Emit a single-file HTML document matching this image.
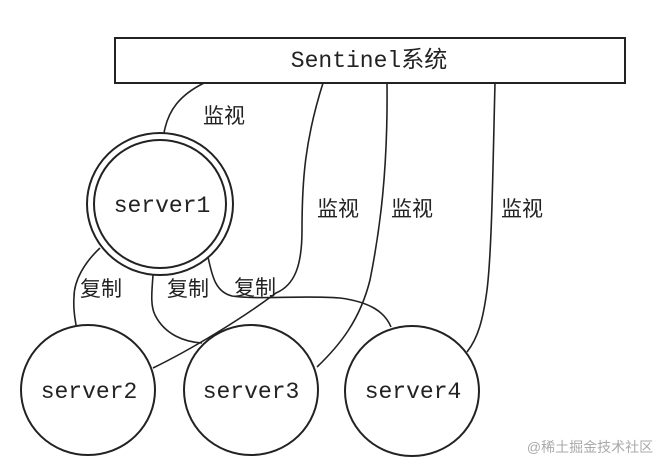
<!DOCTYPE html>
<html><head><meta charset="utf-8"><style>
html,body{margin:0;padding:0;background:#fff;}
svg{display:block}
.m{font-family:"Liberation Mono","Noto Sans CJK SC",monospace;font-size:23px;fill:#222}
.c{font-family:"Liberation Sans","Noto Sans CJK SC",sans-serif;font-size:21px;fill:#222}
</style></head><body>
<svg width="663" height="469" viewBox="0 0 663 469" xmlns="http://www.w3.org/2000/svg">
<g fill="none" stroke="#222" stroke-width="1.6">
<rect x="115" y="38" width="510" height="45" stroke-width="2"/>
<path d="M204 83 C180 95 168 110 164 133"/>
<path d="M323 83 C305 140 302 180 302 230 C302 265 295 285 276 293 C240 320 190 350 153 368"/>
<path d="M387 83 C388 170 380 230 370 280 C360 320 340 345 317 367"/>
<path d="M495 83 C493 160 492 250 487 290 C483 320 478 338 467 352"/>
<path d="M100 248 C85 262 74 280 74 297 C73 310 75 318 76 325"/>
<path d="M153 275 C152 290 150 305 155 315 C165 335 185 342 202 343"/>
<path d="M208 257 C212 275 215 292 232 296 C260 300 300 295 340 298 C370 302 385 312 391 327"/>
<ellipse cx="160" cy="204" rx="73" ry="71" fill="#fff" stroke-width="2"/>
<ellipse cx="160" cy="204" rx="66" ry="64" stroke-width="2"/>
<ellipse cx="88" cy="390" rx="67" ry="65" fill="#fff" stroke-width="2"/>
<ellipse cx="251" cy="390" rx="67" ry="65" fill="#fff" stroke-width="2"/>
<ellipse cx="412" cy="391" rx="67" ry="65" fill="#fff" stroke-width="2"/>
</g>
<text class="m" x="369" y="67" text-anchor="middle">Sentinel系统</text>
<text class="m" x="162" y="212" text-anchor="middle">server1</text>
<text class="m" x="89" y="398" text-anchor="middle">server2</text>
<text class="m" x="251" y="398" text-anchor="middle">server3</text>
<text class="m" x="413" y="398" text-anchor="middle">server4</text>
<text class="c" x="224" y="123" text-anchor="middle">监视</text>
<text class="c" x="338" y="216" text-anchor="middle">监视</text>
<text class="c" x="412" y="216" text-anchor="middle">监视</text>
<text class="c" x="522" y="216" text-anchor="middle">监视</text>
<text class="c" x="101" y="296" text-anchor="middle">复制</text>
<text class="c" x="188" y="296" text-anchor="middle">复制</text>
<text class="c" x="255" y="295" text-anchor="middle">复制</text>
<text x="590" y="452" text-anchor="middle" style="font-family:'Liberation Sans','Noto Sans CJK SC',sans-serif;font-size:14px;fill:#aaa">@稀土掘金技术社区</text>
</svg>
</body></html>
